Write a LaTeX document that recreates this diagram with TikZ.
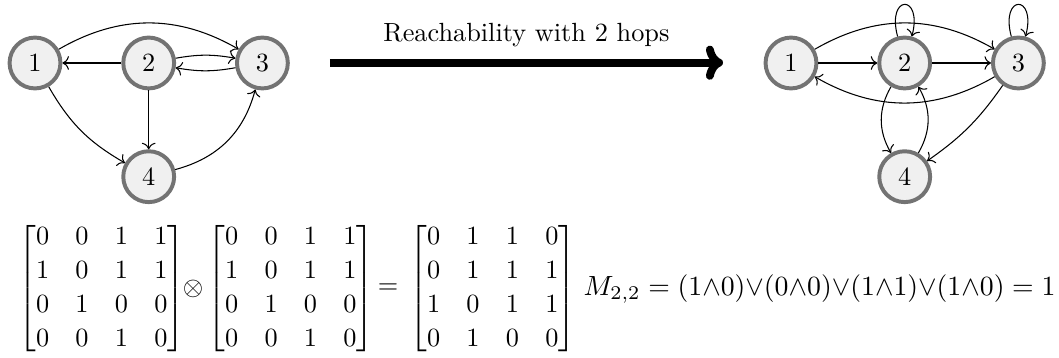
\documentclass[tikz,border=0pt]{standalone}
\usepackage{amsmath}
\usetikzlibrary{arrows.meta, positioning}
\renewcommand{\arraystretch}{1.08}

\begin{document}
\begin{tikzpicture}[
    vtx/.style={circle, draw=black!55, line width=1.5pt, fill=black!6,
      minimum size=0.68cm, inner sep=0pt},
    edge/.style={->, black},
    bigarr/.style={-{To[round, length=6.5pt, width=13pt]}, line width=3pt},
    mat/.style={inner sep=0pt},
    node distance=1.52cm, on grid
  ]
    \useasboundingbox (0,0) rectangle (14.158,-4.786);
    % graph before
    \node[vtx] (a1) at (0.468,-0.842) {1};
    \node[vtx, right=of a1] (a2) {2};
    \node[vtx, right=of a2] (a3) {3};
    \node[vtx, below=of a2] (a4) {4};
    \draw[edge] (a1) to[bend left=30] (a3); \draw[edge] (a2) -- (a1);
    \draw[edge] (a2) to[bend left=10] (a3); \draw[edge] (a3) to[bend left=10] (a2);
    \draw[edge] (a2) -- (a4); \draw[edge] (a1) to[bend right=15] (a4);
    \draw[edge] (a4) to[bend right=30] (a3);
    % big arrow
    \coordinate (s) at (4.41,-0.838);
    \coordinate (t) at (9.666,-0.838);
    \draw[bigarr] (s) -- node[above=1pt] (lbl) {Reachability with 2 hops} (t);
    % graph after
    \node[vtx] (b1) at (10.575,-0.842) {1};
    \node[vtx, right=of b1] (b2) {2};
    \node[vtx, right=of b2] (b3) {3};
    \node[vtx, below=of b2] (b4) {4};
    \draw[edge] (b1) -- (b2); \draw[edge] (b2) -- (b3);
    \draw[edge] (b1) to[bend left=30] (b3); \draw[edge] (b3) to[bend left=30] (b1);
    \draw[edge] (b2) to[loop above] (b2); \draw[edge] (b3) to[loop above] (b3);
    \draw[edge] (b2) to[bend right=30] (b4); \draw[edge] (b4) to[bend right=30] (b2);
    \draw[edge] (b3) to[bend left=10] (b4);
    % matrices
    \node[mat, anchor=west] (m1) at (0.24,-3.86)
      {$\begin{bmatrix}0&0&1&1\\1&0&1&1\\0&1&0&0\\0&0&1&0\end{bmatrix}$};
    \node[mat] (op) at (2.58,-3.86) {$\otimes$};
    \node[mat, anchor=west] (m2) at (2.768,-3.86)
      {$\begin{bmatrix}0&0&1&1\\1&0&1&1\\0&1&0&0\\0&0&1&0\end{bmatrix}$};
    \node[mat] (eq) at (5.187,-3.86) {$=$};
    \node[mat, anchor=west] (m3) at (5.468,-3.86)
      {$\begin{bmatrix}0&1&1&0\\0&1&1&1\\1&0&1&1\\0&1&0&0\end{bmatrix}$};
    \node[mat, anchor=west, scale=1.056] (res) at (7.794,-3.86)
      {$M_{2,2} = (1{\wedge}0){\vee}(0{\wedge}0){\vee}(1{\wedge}1){\vee}(1{\wedge}0) = 1$};
\end{tikzpicture}
\end{document}
